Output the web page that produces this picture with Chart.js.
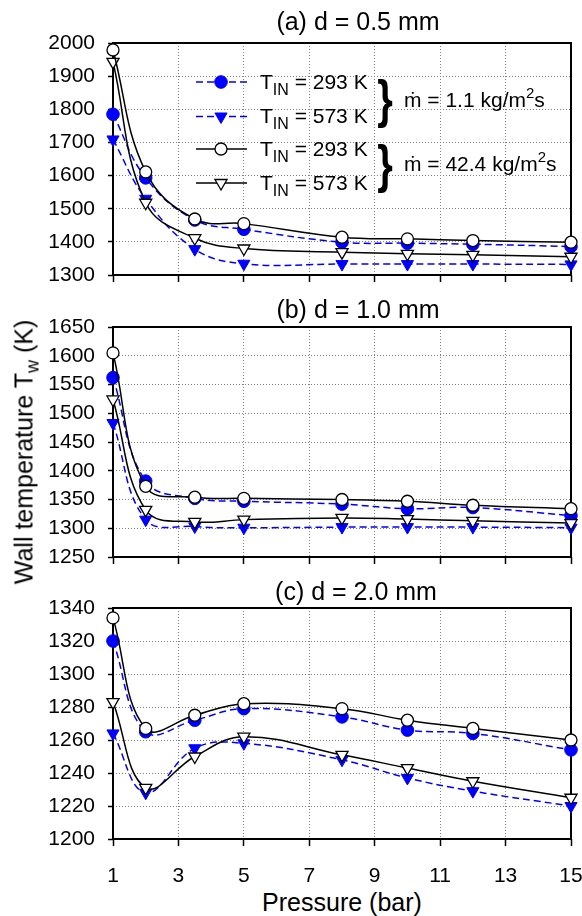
<!DOCTYPE html>
<html>
<head>
<meta charset="utf-8">
<script src="https://cdn.jsdelivr.net/npm/chart.js@4.4.0/dist/chart.umd.min.js"></script>
<style>
  body { margin: 0; background: #fff; }
  #wrap { position: relative; width: 582px; height: 916px; overflow: hidden;
          font-family: "Liberation Sans", Arial, "DejaVu Sans", sans-serif; color: #000; }
  canvas { position: absolute; left: 0; }
  .lbl { position: absolute; white-space: nowrap; line-height: 1; z-index: 2; }
  .ttl { font-size: 25px; transform: translate(-50%, -50%); }
  .leg { font-size: 21px; }
  .leg sub { font-size: 16px; vertical-align: -6px; line-height: 0; }
  .leg sup { font-size: 15px; vertical-align: 9px; line-height: 0; }
  .brace { font-size: 40px; font-weight: bold; transform: translate(-50%, -50%) scale(1, 1.3); }
  #ytitle sub { font-size: 18px; vertical-align: -6px; line-height: 0; }
</style>
</head>
<body>
<div id="wrap">
  <canvas id="pa" width="582" height="264"></canvas>
  <canvas id="pb" width="582" height="262"></canvas>
  <canvas id="pc" width="582" height="297"></canvas>

  <div class="lbl ttl" style="left:358px;top:21px">(a) d = 0.5 mm</div>
  <div class="lbl ttl" style="left:358px;top:309px">(b) d = 1.0 mm</div>
  <div class="lbl ttl" style="left:356px;top:591px">(c) d = 2.0 mm</div>
  <div class="lbl ttl" style="left:342px;top:902px">Pressure (bar)</div>
  <div class="lbl ttl" id="ytitle" style="left:24px;top:452px;transform:translate(-50%,-50%) rotate(-90deg)">Wall temperature T<sub>w</sub> (K)</div>

  <div class="lbl leg" style="left:260px;top:71px">T<sub>IN</sub> = 293 K</div>
  <div class="lbl leg" style="left:260px;top:105px">T<sub>IN</sub> = 573 K</div>
  <div class="lbl leg" style="left:260px;top:138px">T<sub>IN</sub> = 293 K</div>
  <div class="lbl leg" style="left:260px;top:172px">T<sub>IN</sub> = 573 K</div>
  <div class="lbl brace" style="left:385px;top:99px">}</div>
  <div class="lbl brace" style="left:385px;top:164px">}</div>
  <div class="lbl leg" style="left:404px;top:89px">ṁ = 1.1 kg/m<sup>2</sup>s</div>
  <div class="lbl leg" style="left:404px;top:153px">ṁ = 42.4 kg/m<sup>2</sup>s</div>
</div>

<script>
const pressure = [1, 2, 3.5, 5, 8, 10, 12, 15];

// (a) d = 0.5 mm
const aLow293  = [1785, 1593, 1466, 1438, 1399, 1396, 1393, 1386];
const aLow573  = [1709, 1530, 1378, 1334, 1333, 1333, 1333, 1332];
const aHigh293 = [1979, 1611, 1469, 1455, 1414, 1409, 1404, 1399];
const aHigh573 = [1943, 1518, 1411, 1380, 1369, 1364, 1361, 1355];

// (b) d = 1.0 mm
const bLow293  = [1562, 1382, 1352, 1347, 1342, 1334, 1336, 1322];
const bLow573  = [1483, 1315, 1303, 1301, 1302, 1302, 1302, 1301];
const bHigh293 = [1605, 1373, 1354, 1352, 1350, 1347, 1340, 1334];
const bHigh573 = [1524, 1332, 1311, 1315, 1318, 1316, 1313, 1309];

// (c) d = 2.0 mm
const cLow293  = [1320, 1265, 1272, 1279, 1274, 1266, 1264, 1254];
const cLow573  = [1264, 1228, 1255, 1258, 1248, 1237, 1229, 1220];
const cHigh293 = [1334, 1267, 1275, 1282, 1279, 1272, 1267, 1260];
const cHigh573 = [1283, 1231, 1250, 1262, 1251, 1243, 1235, 1225];

const seriesNames = ['TIN = 293 K, 1.1 kg/m2s', 'TIN = 573 K, 1.1 kg/m2s',
                     'TIN = 293 K, 42.4 kg/m2s', 'TIN = 573 K, 42.4 kg/m2s'];
const BLUE = '#0000ff';
const FONT = '"Liberation Sans", Arial, sans-serif';

function makeSets(low293, low573, high293, high573) {
  const pts = v => pressure.map((p, i) => ({x: p, y: v[i]}));
  return [
    {label: seriesNames[0], data: pts(low293), borderColor: BLUE, backgroundColor: BLUE,
     borderDash: [7, 4], pointStyle: 'circle', pointRadius: 6.3, pointBorderWidth: 1, order: 1},
    {label: seriesNames[1], data: pts(low573), borderColor: BLUE, backgroundColor: BLUE,
     borderDash: [7, 4], pointStyle: 'triangle', pointRotation: 180, pointRadius: 7, pointBorderWidth: 1, order: 1},
    {label: seriesNames[2], data: pts(high293), borderColor: '#000', backgroundColor: '#fff',
     pointStyle: 'circle', pointRadius: 6, pointBorderWidth: 1.3, order: 0},
    {label: seriesNames[3], data: pts(high573), borderColor: '#000', backgroundColor: '#fff',
     pointStyle: 'triangle', pointRotation: 180, pointRadius: 7, pointBorderWidth: 1.3, order: 0}
  ];
}

// solid frame round the plot area, under the markers
const frame = {
  id: 'frame',
  beforeDatasetsDraw(chart) {
    const {ctx, chartArea: a} = chart;
    ctx.save();
    ctx.strokeStyle = '#000';
    ctx.lineWidth = 2;
    ctx.strokeRect(a.left, a.top, a.right - a.left, a.bottom - a.top);
    ctx.restore();
  }
};

// legend samples (line + marker) for panel (a)
const legendMarks = {
  id: 'legendMarks',
  afterDatasetsDraw(chart) {
    const ctx = chart.ctx;
    const rows = [82, 116.5, 149, 183].map(y => y - 23);
    const x0 = 196, x1 = 247, xm = 221;
    chart.data.datasets.forEach((ds, i) => {
      const y = rows[i];
      ctx.save();
      ctx.strokeStyle = ds.borderColor;
      ctx.lineWidth = 1.5;
      ctx.setLineDash(ds.borderDash || []);
      ctx.beginPath(); ctx.moveTo(x0, y); ctx.lineTo(x1, y); ctx.stroke();
      ctx.setLineDash([]);
      ctx.fillStyle = ds.backgroundColor;
      ctx.lineWidth = ds.pointBorderWidth;
      ctx.beginPath();
      if (ds.pointStyle === 'circle') {
        ctx.arc(xm, y, ds.pointRadius, 0, Math.PI * 2);
      } else {
        const r = ds.pointRadius;
        ctx.moveTo(xm, y + r);
        ctx.lineTo(xm - r * 0.866, y - r * 0.5);
        ctx.lineTo(xm + r * 0.866, y - r * 0.5);
        ctx.closePath();
      }
      ctx.fill(); ctx.stroke();
      ctx.restore();
    });
  }
};

function panel(id, top, xHeight, yMin, yMax, yStep, datasets, showX, extra) {
  const canvas = document.getElementById(id);
  canvas.style.top = top + 'px';
  return new Chart(canvas, {
    type: 'line',
    data: {datasets},
    options: {
      responsive: false,
      animation: false,
      events: [],
      layout: {padding: {top: 20, left: 0, right: 11, bottom: 0}},
      plugins: {legend: {display: false}, tooltip: {enabled: false}},
      elements: {line: {tension: 0.4, borderWidth: 1.5}},
      datasets: {line: {clip: false}},
      scales: {
        x: {
          type: 'linear', min: 1, max: 15,
          ticks: {stepSize: 2, display: showX, color: '#000', padding: 18, maxRotation: 0,
                  font: {size: 21, family: FONT}},
          grid: {color: '#808080', lineWidth: 1, tickLength: 7, tickColor: '#000', tickWidth: 1.5},
          border: {display: false, dash: [1, 2]},
          afterFit: s => { s.height = xHeight; s.paddingLeft = 0; s.paddingRight = 0; }
        },
        y: {
          min: yMin, max: yMax,
          ticks: {stepSize: yStep, color: '#000', padding: 13, font: {size: 21, family: FONT},
                  callback: v => String(v)},
          grid: {color: '#808080', lineWidth: 1, tickLength: 5, tickColor: '#000', tickWidth: 1.5},
          border: {display: false, dash: [1, 2]},
          afterFit: s => { s.width = 113; s.paddingTop = 0; s.paddingBottom = 0; }
        }
      }
    },
    plugins: [frame].concat(extra || [])
  });
}

panel('pa', 23, 12, 1300, 2000, 100, makeSets(aLow293, aLow573, aHigh293, aHigh573), false, [legendMarks]);
panel('pb', 307, 12, 1250, 1650, 50, makeSets(bLow293, bLow573, bHigh293, bHigh573), false);
panel('pc', 588, 46, 1200, 1340, 20, makeSets(cLow293, cLow573, cHigh293, cHigh573), true);
</script>
</body>
</html>
